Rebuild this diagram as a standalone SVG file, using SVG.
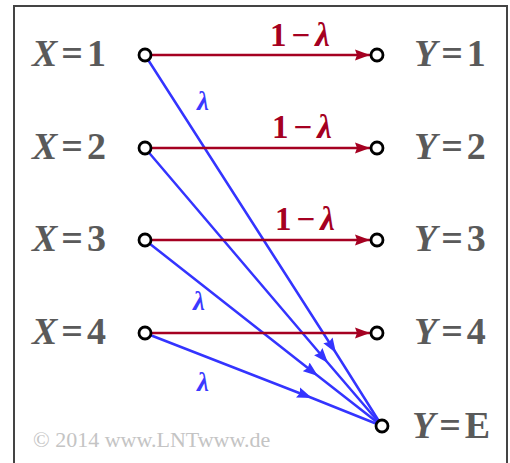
<svg xmlns="http://www.w3.org/2000/svg" width="510" height="463" viewBox="0 0 510 463">
<style>
.lbl{font-family:"Liberation Serif","Times New Roman",serif;font-weight:bold;font-size:38px;fill:#5a5a5a;letter-spacing:4px}
.it{font-style:italic}
.red{font-family:"Liberation Serif","Times New Roman",serif;font-weight:bold;font-size:33px;fill:#a50021;letter-spacing:5px}
.blu{font-family:"Liberation Serif","Times New Roman",serif;font-weight:bold;font-style:italic;font-size:27px;fill:#3a3aff}
.node{fill:#fff;stroke:#000;stroke-width:2.8}
.r{stroke:#a50021;stroke-width:2.5;fill:none}
.b{stroke:#3434ff;stroke-width:2.5;fill:none}
.copy{font-family:"Liberation Serif","Times New Roman",serif;font-size:22px;fill:#c4c4c4}
</style>
<defs>
<marker id="ar" markerUnits="userSpaceOnUse" markerWidth="16" markerHeight="12" refX="15" refY="6" orient="auto">
<path d="M0,0.5 L15,6 L0,11.5 L2,6 Z" fill="#a50021"/>
</marker>
<marker id="ab" markerUnits="userSpaceOnUse" markerWidth="16" markerHeight="12" refX="15" refY="6" orient="auto">
<path d="M0,0.5 L15,6 L0,11.5 L2,6 Z" fill="#3434ff"/>
</marker>
</defs>
<rect x="0" y="0" width="510" height="463" fill="#fff"/>
<rect x="14" y="6" width="493" height="470" fill="#fff" stroke="#444" stroke-width="2"/>
<g id="connectors">
<path class="b" d="M145,55 L336,353 L382,426" marker-mid="url(#ab)"/>
<path class="b" d="M145,148 L328,363 L382,426" marker-mid="url(#ab)"/>
<path class="b" d="M145,240 L318,376 L382,426" marker-mid="url(#ab)"/>
<path class="b" d="M145,333 L312,398 L382,426" marker-mid="url(#ab)"/>
<line class="r" x1="151" y1="55" x2="370" y2="55" marker-end="url(#ar)"/>
<line class="r" x1="151" y1="148" x2="370" y2="148" marker-end="url(#ar)"/>
<line class="r" x1="151" y1="240" x2="370" y2="240" marker-end="url(#ar)"/>
<line class="r" x1="151" y1="333" x2="370" y2="333" marker-end="url(#ar)"/>
<text class="red" x="270" y="46">1−<tspan class="it">λ</tspan></text>
<text class="red" x="272" y="138">1−<tspan class="it">λ</tspan></text>
<text class="red" x="275" y="230">1−<tspan class="it">λ</tspan></text>
<text class="blu" x="197" y="110">λ</text>
<text class="blu" x="193" y="310">λ</text>
<text class="blu" x="197" y="391">λ</text>
</g>
<g id="x1"><circle class="node" cx="145" cy="55" r="6"/><text class="lbl" x="32" y="66"><tspan class="it">X</tspan>=1</text></g>
<g id="x2"><circle class="node" cx="145" cy="148" r="6"/><text class="lbl" x="32" y="159"><tspan class="it">X</tspan>=2</text></g>
<g id="x3"><circle class="node" cx="145" cy="240" r="6"/><text class="lbl" x="32" y="251"><tspan class="it">X</tspan>=3</text></g>
<g id="x4"><circle class="node" cx="145" cy="333" r="6"/><text class="lbl" x="32" y="344"><tspan class="it">X</tspan>=4</text></g>
<g id="y1"><circle class="node" cx="377" cy="55" r="6"/><text class="lbl" x="414" y="66"><tspan class="it">Y</tspan>=1</text></g>
<g id="y2"><circle class="node" cx="377" cy="148" r="6"/><text class="lbl" x="414" y="159"><tspan class="it">Y</tspan>=2</text></g>
<g id="y3"><circle class="node" cx="377" cy="240" r="6"/><text class="lbl" x="414" y="251"><tspan class="it">Y</tspan>=3</text></g>
<g id="y4"><circle class="node" cx="377" cy="333" r="6"/><text class="lbl" x="414" y="344"><tspan class="it">Y</tspan>=4</text></g>
<g id="ye"><circle class="node" cx="382" cy="426" r="6"/><text class="lbl" x="412" y="438"><tspan class="it">Y</tspan>=E</text></g>
<text class="copy" x="33" y="447">© 2014 www.LNTwww.de</text>
</svg>
